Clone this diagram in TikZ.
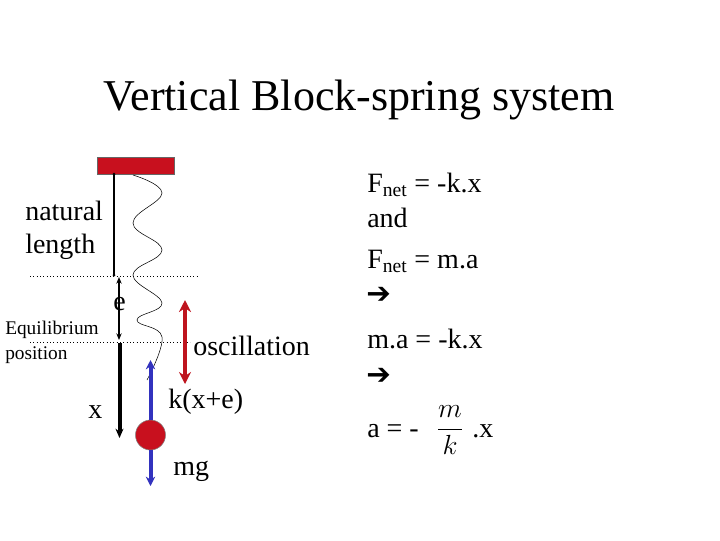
\documentclass[tikz,border=0pt]{standalone}
\usepackage{fontspec}
\setmainfont{Liberation Serif}
\newfontfamily\dejavu{DejaVu Sans}
\usetikzlibrary{arrows.meta}
\definecolor{blockred}{RGB}{200,16,30}
\definecolor{arrred}{RGB}{190,20,30}
\definecolor{arrblue}{RGB}{50,50,190}
\begin{document}
\begin{tikzpicture}[x=0.75pt,y=-0.75pt,
  txt/.style={font=\fontsize{21}{24}\selectfont, inner sep=0pt, anchor=base west},
  small/.style={font=\fontsize{14.5}{16}\selectfont, inner sep=0pt, anchor=base west, align=left},
  arrowglyph/.style={font=\dejavu\bfseries\fontsize{22}{24}\selectfont, inner sep=0pt, anchor=base west},
  dotline/.style={dotted, line width=0.5pt}]
\useasboundingbox (0,0) rectangle (720,540);
\node[font=\fontsize{33}{36}\selectfont, anchor=base] (title) at (359,110) {Vertical Block-spring system};
% block
\node[draw=black!60, fill=blockred, minimum width=77*0.75pt, minimum height=17*0.75pt, inner sep=0pt, line width=0.4pt] (block) at (135.5,165.5) {};
% labels
\node[txt] (nat) at (25,220) {natural};
\node[txt] (len) at (25,253) {length};
\node[small] (eq) at (5,334) {Equilibrium};
\node[small] (pos) at (5,359) {position};
\node[txt] (e) at (113,310) {e};
\node[txt] (xl) at (88,418) {x};
\node[txt] (osc) at (193,355) {oscillation};
\node[txt] (kx) at (168,408) {k(x+e)};
\node[txt] (mg) at (173,475) {mg};
% dotted lines
\coordinate (d1a) at (30,276); \coordinate (d1b) at (199,276);
\coordinate (d2a) at (30,342); \coordinate (d2b) at (190,342);
\draw[dotline] (d1a) -- (d1b);
\draw[dotline] (d2a) -- (d2b);
% natural length line
\coordinate (n1) at (114,174); \coordinate (n2) at (114,275);
\draw[line width=1.2pt] (n1) -- (n2);
\fill (n1) circle (1.5); \fill (n2) circle (1.5);
% e arrow
\coordinate (e1) at (119,277); \coordinate (e2) at (119,340);
\draw[{Stealth[length=5pt,width=4pt]}-{Stealth[length=5pt,width=4pt]}, line width=1pt] (e1) -- (e2);
% x arrow
\coordinate (x1) at (119.5,343); \coordinate (x2) at (119.5,438);
\draw[-{Stealth[length=7pt,width=6pt]}, line width=3pt] (x1) -- (x2);
% spring
\draw[line width=0.4pt] plot[smooth, tension=0.7] coordinates {(133,175) (162,193) (133,223) (162,250) (133,275) (162,303) (137,320) (162,337) (147,380)};
% ball
\node[circle, fill=blockred, draw=black!50, minimum size=30*0.75pt, inner sep=0pt] (ball) at (150.5,435) {};
\coordinate (bu) at (150.5,360); \coordinate (bd) at (150.5,486);
\draw[-{Stealth[length=7pt,width=7pt]}, arrblue, line width=3pt] (ball.north) -- (bu);
\draw[-{Stealth[length=7pt,width=7pt]}, arrblue, line width=3pt] (ball.south) -- (bd);
% red oscillation arrow
\coordinate (r1) at (185,300); \coordinate (r2) at (185,384);
\draw[{Stealth[length=9pt,width=9pt]}-{Stealth[length=9pt,width=9pt]}, arrred, line width=3pt] (r1) -- (r2);
% right equations
\node[txt] (f1) at (367,192) {F\textsubscript{net} = -k.x};
\node[txt] (and) at (367,227) {and};
\node[txt] (f2) at (367,268) {F\textsubscript{net} = m.a};
\node[arrowglyph] (ar1) at (366,303) {➔};
\node[txt] (ma) at (367,348) {m.a = -k.x};
\node[arrowglyph] (ar2) at (366,384) {➔};
\node[txt] (a) at (367,437) {a = -};
\node[inner sep=0pt, font=\fontsize{22}{24}\selectfont] (frac) at (450,430) {$\displaystyle\frac{m}{k}$};
\node[txt] (dx) at (472,437) {.x};
\end{tikzpicture}
\end{document}
